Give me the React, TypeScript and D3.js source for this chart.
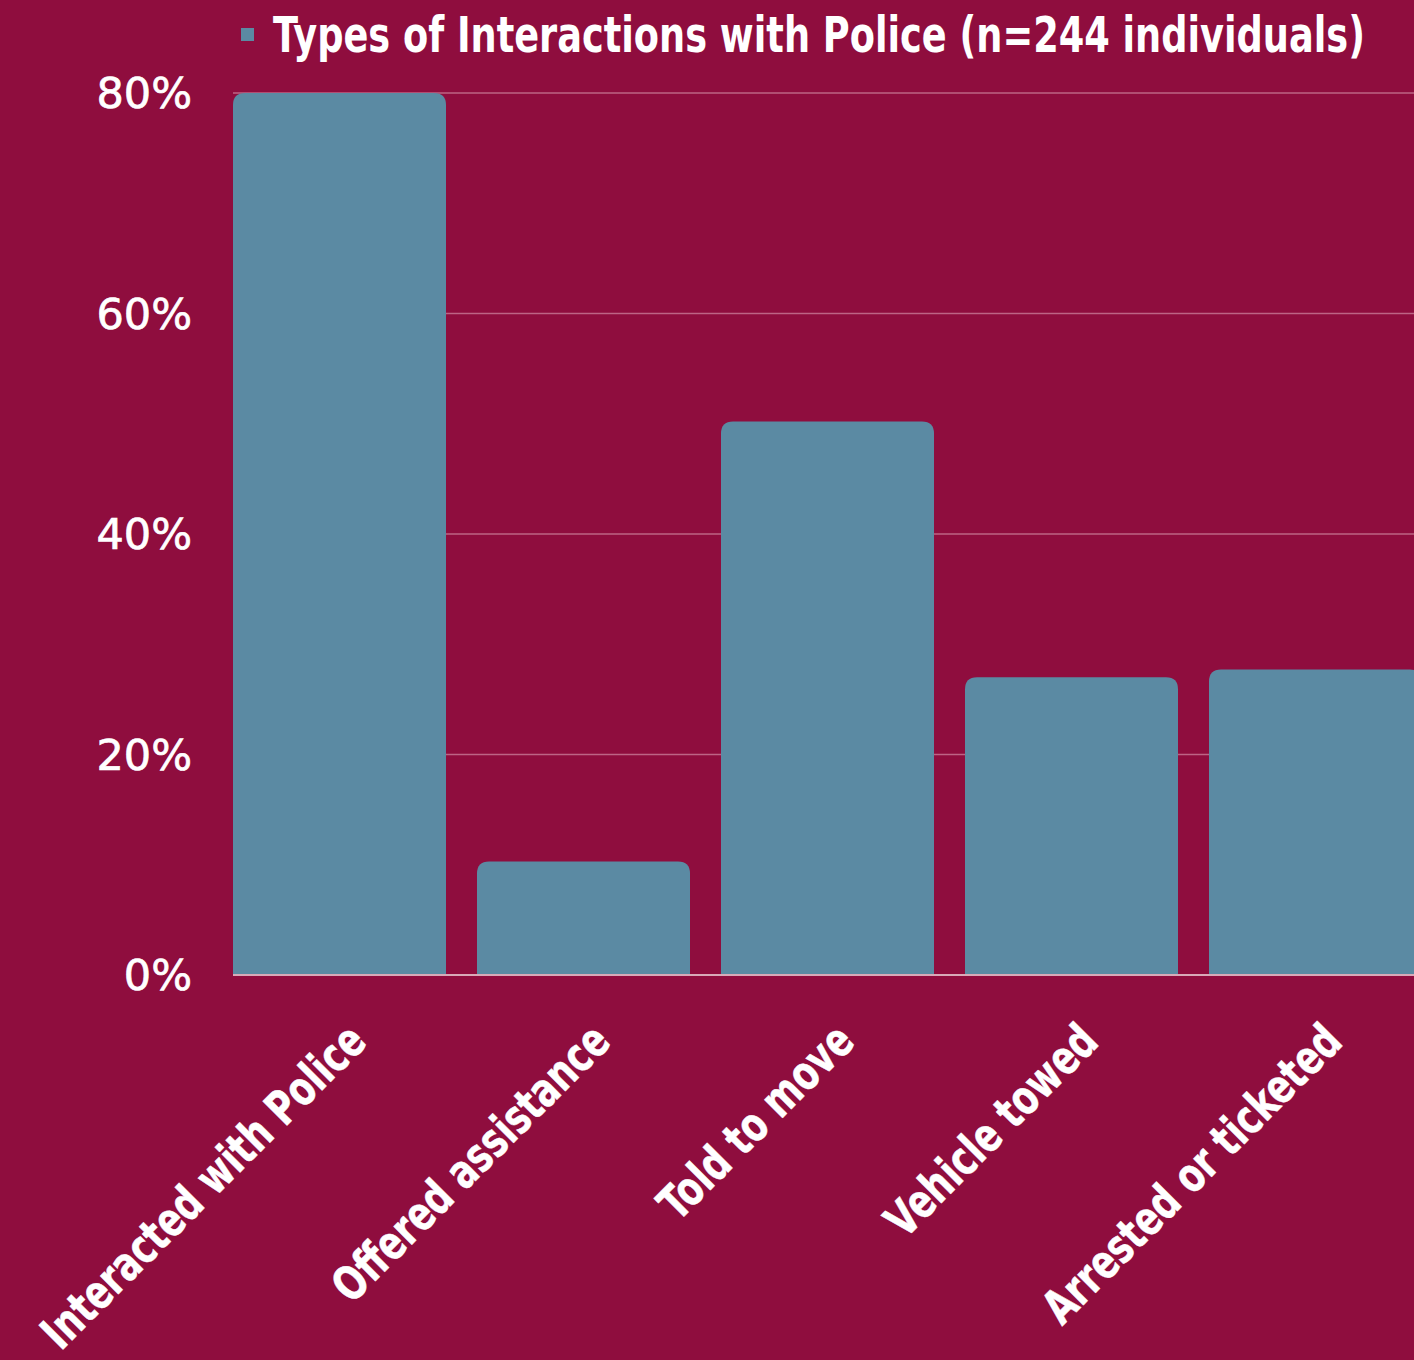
import React, { useLayoutEffect, useRef, useState } from "react";
import * as d3 from "d3";

const categories = [
  "Interacted with Police",
  "Offered assistance",
  "Told to move",
  "Vehicle towed",
  "Arrested or ticketed",
];
const values = [80, 10.3, 50.2, 27.0, 27.7];
const yTicks = [0, 20, 40, 60, 80];
const seriesName = "Types of Interactions with Police (n=244 individuals)";

const W = 1414;
const H = 1360;
const BG = "#8F0D3E";
const BAR = "#5B8AA3";

export default function App() {
  const titleRef = useRef<SVGTextElement>(null);
  const [titleScale, setTitleScale] = useState(0.85);

  useLayoutEffect(() => {
    if (titleRef.current) {
      const len = titleRef.current.getComputedTextLength();
      if (len > 0) setTitleScale(1092 / len);
    }
  }, []);

  const left = 233;
  const step = 244;
  const inner = 31 / 244;
  const x = d3
    .scaleBand<string>()
    .domain(categories)
    .range([left, left + step * (categories.length - inner)])
    .paddingInner(inner)
    .paddingOuter(0);
  const y = d3.scaleLinear().domain([0, 80]).range([975, 93]);
  const r = 12;

  const barPath = (xs: number, w: number, yt: number, yb: number) => {
    const rr = Math.min(r, yb - yt);
    return `M${xs},${yb}V${yt + rr}Q${xs},${yt} ${xs + rr},${yt}H${xs + w - rr}Q${xs + w},${yt} ${xs + w},${yt + rr}V${yb}Z`;
  };

  const condFont = "'DejaVu Sans Condensed', 'DejaVu Sans', sans-serif";

  return (
    <svg
      width={W}
      height={H}
      style={{ position: "absolute", left: 0, top: 0, display: "block" }}
    >
      <rect x={0} y={0} width={W} height={H} fill={BG} />
      {yTicks.slice(1).map((t) => (
        <line
          key={t}
          x1={left}
          x2={W}
          y1={y(t)}
          y2={y(t)}
          stroke="#BD6485"
          strokeWidth={1.5}
        />
      ))}
      {categories.map((c, i) => (
        <path
          key={c}
          d={barPath(x(c)!, x.bandwidth(), y(values[i]), y(0))}
          fill={BAR}
        />
      ))}
      <line x1={left} x2={W} y1={y(0)} y2={y(0)} stroke="#D9A9B8" strokeWidth={2} />
      {yTicks.map((t) => (
        <text
          key={t}
          x={192}
          y={y(t)}
          dy="0.36em"
          textAnchor="end"
          fill="#FFFFFF"
          fontFamily="'DejaVu Sans', sans-serif"
          fontWeight={400}
          fontSize={43}
          stroke="#FFFFFF"
          strokeWidth={0.7}
        >
          {t}%
        </text>
      ))}
      {categories.map((c) => {
        const cx = x(c)! + x.bandwidth() / 2 + 29;
        const cy = 1044;
        return (
          <g key={c} transform={`translate(${cx},${cy}) rotate(-45) scale(0.83,1)`}>
            <text
              textAnchor="end"
              fill="#FFFFFF"
              fontFamily={condFont}
              fontStretch="condensed"
              fontWeight={700}
              fontSize={47}
              stroke="#FFFFFF"
              strokeWidth={0.5}
            >
              {c}
            </text>
          </g>
        );
      })}
      <rect x={241} y={28} width={13} height={13} fill={BAR} />
      <g transform={`translate(273,52) scale(${titleScale},1)`}>
        <text
          ref={titleRef}
          x={0}
          y={0}
          fill="#FFFFFF"
          fontFamily={condFont}
          fontStretch="condensed"
          fontWeight={700}
          fontSize={50}
        >
          {seriesName}
        </text>
      </g>
    </svg>
  );
}
